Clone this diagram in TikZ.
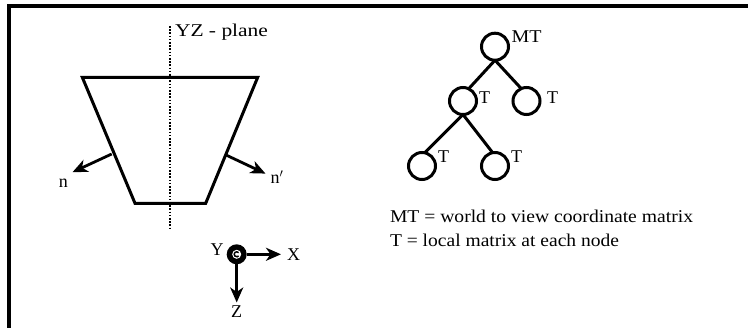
\documentclass[tikz,border=0pt]{standalone}
\usepackage{fontspec}
\usepackage{graphicx}
\setmainfont{Liberation Serif}
\usetikzlibrary{arrows.meta}
\newcommand{\wtxt}[2]{\resizebox{#1pt}{\height}{#2}}
\begin{document}
\begin{tikzpicture}[x=1pt,y=-1pt,
  every node/.style={inner sep=0pt,outer sep=0pt,font=\fontsize{18}{20}\selectfont},
  thk/.style={line width=3pt},
  tnode/.style={circle,draw,line width=3pt,minimum size=27pt},
  tarrow/.style={line width=2.8pt,-{Stealth[length=15pt,width=13pt,inset=4.5pt]}},
  lbl/.style={anchor=base west}]
\useasboundingbox (0,0) rectangle (748,328);
% frame (top and left only)
\coordinate (f0) at (748,6);
\coordinate (f1) at (9,6);
\coordinate (f2) at (9,328);
\draw[line width=3.4pt] (f0) -- (f1) -- (f2);
% trapezoid
\coordinate (tl) at (82.3,77.3);
\coordinate (tr) at (257.7,77.3);
\coordinate (br) at (205.7,203.3);
\coordinate (bl) at (135,203.3);
\draw[thk,line join=miter] (tl) -- (tr) -- (br) -- (bl) -- cycle;
% YZ plane
\coordinate (p0) at (170,26);
\coordinate (p1) at (170,228);
\draw[line width=2.8pt,dash pattern=on 1.6pt off 1.6pt] (p0) -- (p1);
\node[lbl] (yz) at (175,37) {\wtxt{93}{YZ - plane}};
% normals
\coordinate (n0) at (111.7,154);
\coordinate (n1) at (72.5,172.2);
\coordinate (m0) at (226,155);
\coordinate (m1) at (265.5,173.6);
\draw[tarrow] (n0) -- (n1);
\draw[tarrow] (m0) -- (m1);
\node (nl) at (63.3,183) {n};
\node (ml) at (277,177) {n$'$};
% axes
\node[circle,fill=black,minimum size=20pt] (ax) at (236.7,254.3) {};
\node[circle,fill=white,minimum size=9pt] (axi) at (236.7,254.3) {};
\draw[line width=1.5pt] ([shift={(40:2.5pt)}]axi.center) arc (40:320:2.5pt);
\coordinate (xe) at (281,254.3);
\coordinate (ze) at (236.7,302.5);
\draw[tarrow] (ax.east) -- (xe);
\draw[tarrow] (ax.south) -- (ze);
\node (xl) at (293.5,254.5) {X};
\node (yl) at (217,249.5) {Y};
\node (zl) at (236.7,311.5) {Z};
% tree
\node[tnode] (r) at (495,46.7) {};
\node[tnode] (a) at (463,101) {};
\node[tnode] (b) at (526.5,101) {};
\node[tnode] (c) at (422,166) {};
\node[tnode] (d) at (495,166) {};
\draw[thk] (r.south) -- (a.65);
\draw[thk] (r.south) -- (b.113);
\draw[thk] (a.south) -- (c.78);
\draw[thk] (a.south) -- (d.100);
\node[lbl] (rl) at (511.5,43) {\wtxt{30}{MT}};
\node[lbl] (al) at (479,103.5) {T};
\node[lbl] (bl2) at (547,103.5) {T};
\node[lbl] (cl) at (438,162.5) {T};
\node[lbl] (dl) at (511,162.5) {T};
% legend
\node[lbl] (t1) at (390,223) {\wtxt{303}{MT = world to view coordinate matrix}};
\node[lbl] (t2) at (390,247) {\wtxt{229}{T = local matrix at each node}};
\end{tikzpicture}
\end{document}
